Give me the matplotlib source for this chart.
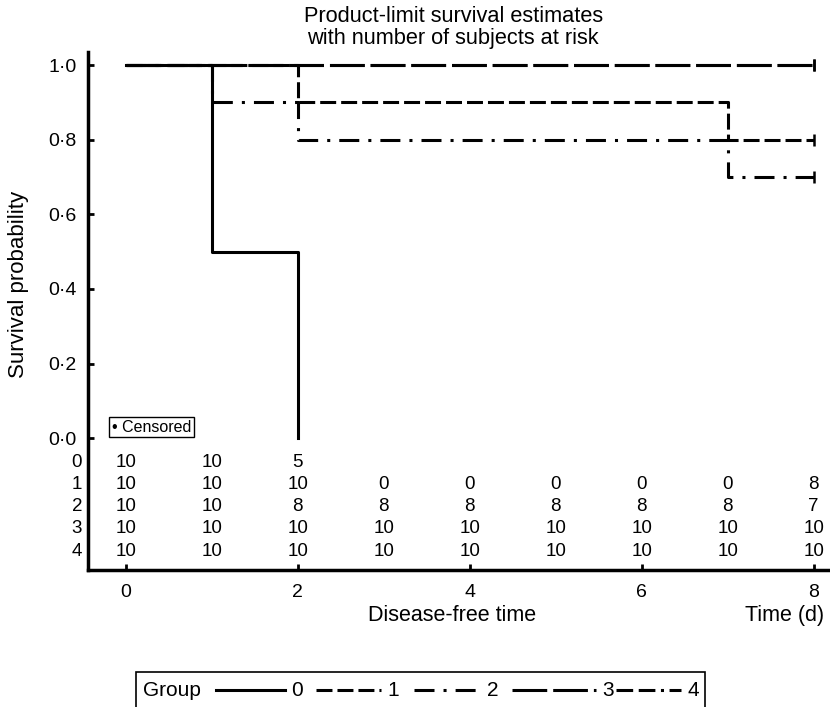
import matplotlib
matplotlib.use("Agg")
import matplotlib.pyplot as plt
from matplotlib.lines import Line2D
from matplotlib.patches import Rectangle
from matplotlib.ticker import FuncFormatter, FixedLocator

plt.rcParams['font.family'] = ['Liberation Sans', 'DejaVu Sans']
plt.rcParams['lines.scale_dashes'] = False

# --------------------------------------------------------------------------- #
# data: survival step curves (time of change, survival after change)          #
# --------------------------------------------------------------------------- #
groups = ['0', '1', '2', '3', '4']

time_0 = [0, 1, 2]
surv_0 = [1.0, 0.5, 0.0]
time_1 = [0, 2, 7, 8]
surv_1 = [1.0, 0.9, 0.8, 0.8]
time_2 = [0, 1, 2, 7, 8]
surv_2 = [1.0, 0.9, 0.8, 0.7, 0.7]
time_3 = [0, 8]
surv_3 = [1.0, 1.0]
time_4 = [0, 8]
surv_4 = [1.0, 1.0]

# censored observations (time, survival)
cens_t = [8, 8, 8, 8]
cens_s = [0.8, 0.7, 1.0, 1.0]

# number at risk
risk_times = [0, 1, 2, 3, 4, 5, 6, 7, 8]
risk_0 = [10, 10, 5]
risk_1 = [10, 10, 10, 0, 0, 0, 0, 0, 8]
risk_2 = [10, 10, 8, 8, 8, 8, 8, 8, 7]
risk_3 = [10, 10, 10, 10, 10, 10, 10, 10, 10]
risk_4 = [10, 10, 10, 10, 10, 10, 10, 10, 10]

xticks = [0, 2, 4, 6, 8]
yticks = [0.0, 0.2, 0.4, 0.6, 0.8, 1.0]

# --------------------------------------------------------------------------- #
# styles                                                                      #
# --------------------------------------------------------------------------- #
LW = 2.2
styles = {
    '0': '-',
    '1': (0, (11.5, 3.6)),
    '2': (0, (14.4, 6.5, 2.2, 6.5)),
    '3': (0, (25, 4.3)),
    '4': (0, (12, 4, 12, 4, 2.2, 4)),
}

fig = plt.figure(figsize=(8.3, 7.07), dpi=100)
ax = fig.add_axes([0.106, 0.194, 0.894, 0.733])

# group 4 lies exactly under group 3 at 1.0, so it is drawn first and with the
# same dash phase (otherwise it fills the gaps of the long dashes)
ax.step(time_4, surv_4, where='post', color='black', lw=LW, linestyle=styles['3'],
        dash_capstyle='butt')
curves = [(time_0, surv_0), (time_1, surv_1), (time_2, surv_2), (time_3, surv_3)]
for g, (t, s) in zip(groups, curves):
    ax.step(t, s, where='post', color='black', lw=LW, linestyle=styles[g],
            dash_capstyle='butt')

ax.plot(cens_t, cens_s, linestyle='none', marker='|', ms=9, mew=1.8,
        color='black')

ax.set_xlim(-0.437, 8.19)
ax.set_ylim(-0.3525, 1.036)

for side in ('top', 'right'):
    ax.spines[side].set_visible(False)
for side in ('left', 'bottom'):
    ax.spines[side].set_linewidth(2.5)

ax.yaxis.set_major_locator(FixedLocator(yticks))
ax.yaxis.set_major_formatter(FuncFormatter(lambda v, p: f"{v:.1f}".replace('.', '\u00b7')))
ax.xaxis.set_major_locator(FixedLocator(xticks))
ax.tick_params(direction='in', length=4, width=2, labelsize=14, pad=8)
ax.tick_params(axis='x', pad=10)

ax.set_ylabel("Survival probability", fontsize=16)
ax.yaxis.set_label_coords(-0.08, 0.55)

# number-at-risk table inside the axes
row_y = [-0.066, -0.125, -0.184, -0.241, -0.304]
risks = [risk_0, risk_1, risk_2, risk_3, risk_4]
ytrans = ax.get_yaxis_transform()
for g, r, y in zip(groups, risks, row_y):
    ax.text(-0.008, y, g, transform=ytrans, ha='right', va='center', fontsize=13.5)
    for t, n in zip(risk_times, r):
        ax.text(t, y, str(n), ha='center', va='center', fontsize=13.5)

# censored key
ax.text(-0.16, 0.03, "\u2022 Censored", ha='left', va='center', fontsize=11.5,
        bbox=dict(boxstyle='square,pad=0.15', fc='white', ec='black', lw=1))

fig.text(0.546, 0.992, "Product-limit survival estimates\nwith number of subjects at risk",
         ha='center', va='top', fontsize=15.7, linespacing=1.1)
fig.text(0.545, 0.130, "Disease-free time", ha='center', va='center', fontsize=15.5)
fig.text(0.993, 0.130, "Time (d)", ha='right', va='center', fontsize=15.5)

# group key at the bottom
fig.add_artist(Rectangle((136 / 830, -0.05), (705 - 136) / 830, 0.05 + 35 / 707,
                         transform=fig.transFigure, fill=False, lw=1.2, ec='black'))
ky = 17 / 707
fig.text(143 / 830, ky, "Group", ha='left', va='center', fontsize=15)
key_lines = [(216, 285), (316, 381), (414, 481), (512, 596), (616, 681)]
for g, (x0, x1) in zip(groups, key_lines):
    fig.add_artist(Line2D([x0 / 830, x1 / 830], [ky, ky], transform=fig.transFigure,
                          color='black', lw=LW, linestyle=styles[g], dash_capstyle='butt'))
    fig.text((x1 + 6) / 830, ky, g, ha='left', va='center', fontsize=15)

fig.savefig("out.png", dpi=100)
